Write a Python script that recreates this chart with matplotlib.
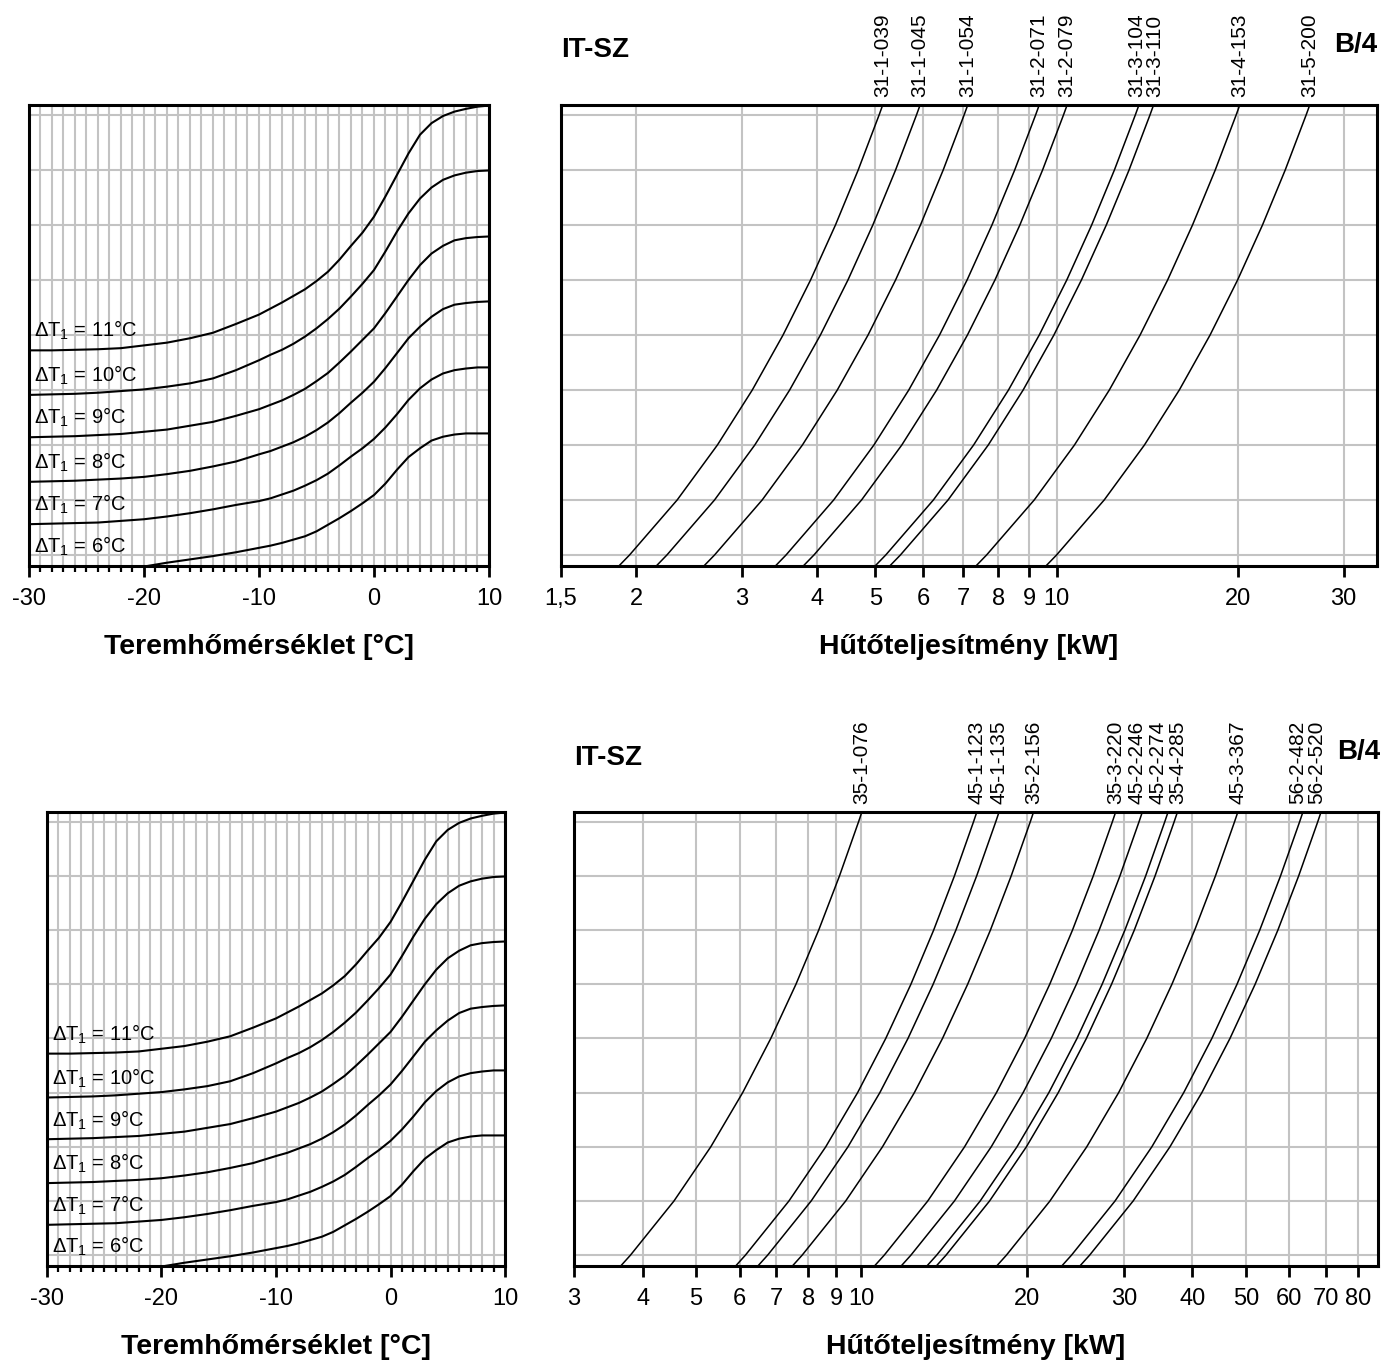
import matplotlib
matplotlib.use('Agg')
import matplotlib.pyplot as plt
import numpy as np
from matplotlib import font_manager
from matplotlib.ticker import FixedLocator, FixedFormatter, MultipleLocator, NullLocator, NullFormatter

nan = np.nan

# --- left charts: correction factor vs. room temperature -------------------
room_temp = [-30, -28, -26, -24, -22, -20, -18, -16, -14, -12,
             -10, -9, -8, -7, -6, -5, -4, -3, -2, -1, 0, 1, 2, 3, 4, 5, 6, 7, 8, 9, 10]
dt1_values = [6, 7, 8, 9, 10, 11]
corr_dt6 = [nan, nan, nan, nan, nan, 0.479, 0.486, 0.492, 0.498, 0.505,
            0.513, 0.517, 0.522, 0.528, 0.534, 0.543, 0.555, 0.567, 0.580, 0.594, 0.609,
            0.630, 0.655, 0.678, 0.694, 0.708, 0.715, 0.719, 0.721, 0.721, 0.721]
corr_dt7 = [0.556, 0.557, 0.558, 0.559, 0.562, 0.565, 0.570, 0.576, 0.583, 0.591,
            0.598, 0.603, 0.610, 0.617, 0.626, 0.636, 0.648, 0.663, 0.679, 0.694, 0.711,
            0.732, 0.756, 0.782, 0.803, 0.819, 0.830, 0.836, 0.839, 0.841, 0.841]
corr_dt8 = [0.633, 0.634, 0.635, 0.637, 0.639, 0.642, 0.647, 0.653, 0.661, 0.670,
            0.683, 0.689, 0.697, 0.705, 0.715, 0.727, 0.741, 0.758, 0.777, 0.795, 0.815,
            0.840, 0.867, 0.894, 0.915, 0.933, 0.947, 0.955, 0.958, 0.960, 0.961]
corr_dt9 = [0.714, 0.715, 0.716, 0.718, 0.720, 0.724, 0.728, 0.735, 0.742, 0.753,
            0.765, 0.773, 0.781, 0.791, 0.802, 0.816, 0.831, 0.850, 0.870, 0.891, 0.912,
            0.940, 0.970, 1.000, 1.027, 1.048, 1.062, 1.072, 1.076, 1.078, 1.079]
corr_dt10 = [0.791, 0.792, 0.793, 0.795, 0.798, 0.801, 0.806, 0.812, 0.821, 0.836,
             0.854, 0.864, 0.873, 0.884, 0.897, 0.912, 0.929, 0.948, 0.970, 0.993, 1.018,
             1.052, 1.088, 1.121, 1.148, 1.168, 1.182, 1.190, 1.195, 1.198, 1.199]
corr_dt11 = [0.872, 0.872, 0.873, 0.874, 0.876, 0.881, 0.886, 0.894, 0.904, 0.920,
             0.937, 0.948, 0.959, 0.971, 0.983, 0.998, 1.015, 1.037, 1.062, 1.086, 1.115,
             1.152, 1.191, 1.230, 1.264, 1.285, 1.298, 1.306, 1.311, 1.315, 1.317]
corr_curves = [corr_dt6, corr_dt7, corr_dt8, corr_dt9, corr_dt10, corr_dt11]

# --- right charts: capacity = nominal capacity * correction factor ---------
factor_levels = [0.48, 0.5, 0.6, 0.7, 0.8, 0.9, 1.0, 1.1, 1.2, 1.3, 1.318]

top_models = ['31-1-039', '31-1-045', '31-1-054', '31-2-071', '31-2-079',
              '31-3-104', '31-3-110', '31-4-153', '31-5-200']
top_nominal = [3.9, 4.5, 5.4, 7.1, 7.9, 10.4, 11.0, 15.3, 20.0]
top_ticks = [1.5, 2, 3, 4, 5, 6, 7, 8, 9, 10, 20, 30]
top_ticklabels = ['1,5', '2', '3', '4', '5', '6', '7', '8', '9', '10', '20', '30']

bottom_models = ['35-1-076', '45-1-123', '45-1-135', '35-2-156', '35-3-220', '45-2-246',
                 '45-2-274', '35-4-285', '45-3-367', '56-2-482', '56-2-520']
bottom_nominal = [7.6, 12.3, 13.5, 15.6, 22.0, 24.6, 27.4, 28.5, 36.7, 48.2, 52.0]
bottom_ticks = [3, 4, 5, 6, 7, 8, 9, 10, 20, 30, 40, 50, 60, 70, 80]
bottom_ticklabels = ['3', '4', '5', '6', '7', '8', '9', '10', '20', '30', '40', '50', '60', '70', '80']

# small sideways shifts (points) so crowded model labels don't overlap
label_nudge = {'31-3-104': -1.5, '31-3-110': 1.0,
               '45-2-246': -3.5, '45-2-274': -7.5, '56-2-482': -3.5, '56-2-520': -3.5}

Y_MIN, Y_MAX = 0.48, 1.318
GRID = '#c3c3c3'

names = {f.name for f in font_manager.fontManager.ttflist}
FONT = 'Liberation Sans' if 'Liberation Sans' in names else 'DejaVu Sans'

plt.rcParams['font.family'] = [FONT, 'DejaVu Sans']
plt.rcParams['axes.unicode_minus'] = False
plt.rcParams['mathtext.fontset'] = 'custom'
plt.rcParams['mathtext.rm'] = FONT
plt.rcParams['mathtext.it'] = FONT + ':italic'
plt.rcParams['xtick.labelsize'] = 17


def style_frame(ax):
    for sp in ax.spines.values():
        sp.set_linewidth(2.2)
        sp.set_color('black')
    ax.yaxis.set_major_locator(NullLocator())
    ax.yaxis.set_minor_locator(NullLocator())
    ax.set_ylim(Y_MIN, Y_MAX)
    for y in factor_levels[1:-1]:
        ax.axhline(y, color=GRID, lw=1.5, zorder=0)


def draw_temp_panel(ax):
    ax.set_xlim(-30, 10)
    ax.xaxis.set_major_locator(MultipleLocator(10))
    ax.xaxis.set_minor_locator(MultipleLocator(1))
    ax.tick_params(axis='x', which='major', direction='out', length=8, width=2, pad=8)
    ax.tick_params(axis='x', which='minor', direction='out', length=4.5, width=1.6)
    ax.grid(True, axis='x', which='both', color=GRID, lw=1.5, zorder=0)
    ax.set_axisbelow(True)
    style_frame(ax)

    for dt, vals in zip(dt1_values, corr_curves):
        ax.plot(room_temp, vals, color='black', lw=1.5, zorder=3)
        first = vals[0] if not np.isnan(vals[0]) else Y_MIN
        ax.text(-29.6, first + 0.024, r'$\Delta$T$_{1}$ = %d°C' % dt,
                fontsize=14.5, ha='left', va='baseline', zorder=4)

    ax.set_xlabel('Teremhőmérséklet [°C]', fontsize=20.5, fontweight='bold', labelpad=17)


def draw_capacity_panel(ax, models, nominal, ticks, ticklabels, xmax):
    ax.set_xscale('log')
    ax.set_xlim(ticks[0], xmax)
    ax.xaxis.set_major_locator(FixedLocator(ticks))
    ax.xaxis.set_major_formatter(FixedFormatter(ticklabels))
    ax.xaxis.set_minor_locator(NullLocator())
    ax.xaxis.set_minor_formatter(NullFormatter())
    ax.tick_params(axis='x', which='major', direction='out', length=8, width=2, pad=8)
    ax.grid(True, axis='x', which='major', color=GRID, lw=1.5, zorder=0)
    ax.set_axisbelow(True)
    style_frame(ax)

    f = np.array(factor_levels)
    for name, cap in zip(models, nominal):
        ax.plot(cap * f, f, color='black', lw=1.1, zorder=3)
        ax.annotate(name, xy=(cap * f[-1], Y_MAX), xytext=(label_nudge.get(name, 0), 6),
                    textcoords='offset points', rotation=90, ha='center', va='bottom',
                    fontsize=15, annotation_clip=False)

    ax.set_xlabel('Hűtőteljesítmény [kW]', fontsize=20.5, fontweight='bold', labelpad=17)


fig = plt.figure(figsize=(13.84, 13.62), dpi=100)
W, H = 1384.0, 1362.0


def add_axes(x0, x1, y0, y1):
    return fig.add_axes([x0 / W, 1 - y1 / H, (x1 - x0) / W, (y1 - y0) / H])


ax_tl = add_axes(29, 489, 105, 566)
ax_tr = add_axes(561, 1377, 105, 566)
ax_bl = add_axes(47, 505, 812, 1266)
ax_br = add_axes(574, 1378, 812, 1266)

draw_temp_panel(ax_tl)
draw_temp_panel(ax_bl)
draw_capacity_panel(ax_tr, top_models, top_nominal, top_ticks, top_ticklabels, 34.1)
draw_capacity_panel(ax_br, bottom_models, bottom_nominal, bottom_ticks, bottom_ticklabels, 87.0)

for x, y in [(561, 50), (574, 758)]:
    fig.text(x / W, 1 - y / H, 'IT-SZ', fontsize=20, fontweight='bold', ha='left', va='center')
for x, y in [(1377, 45), (1380, 752)]:
    fig.text(x / W, 1 - y / H, 'B/4', fontsize=20, fontweight='bold', ha='right', va='center')

fig.savefig('out.png', dpi=100)
